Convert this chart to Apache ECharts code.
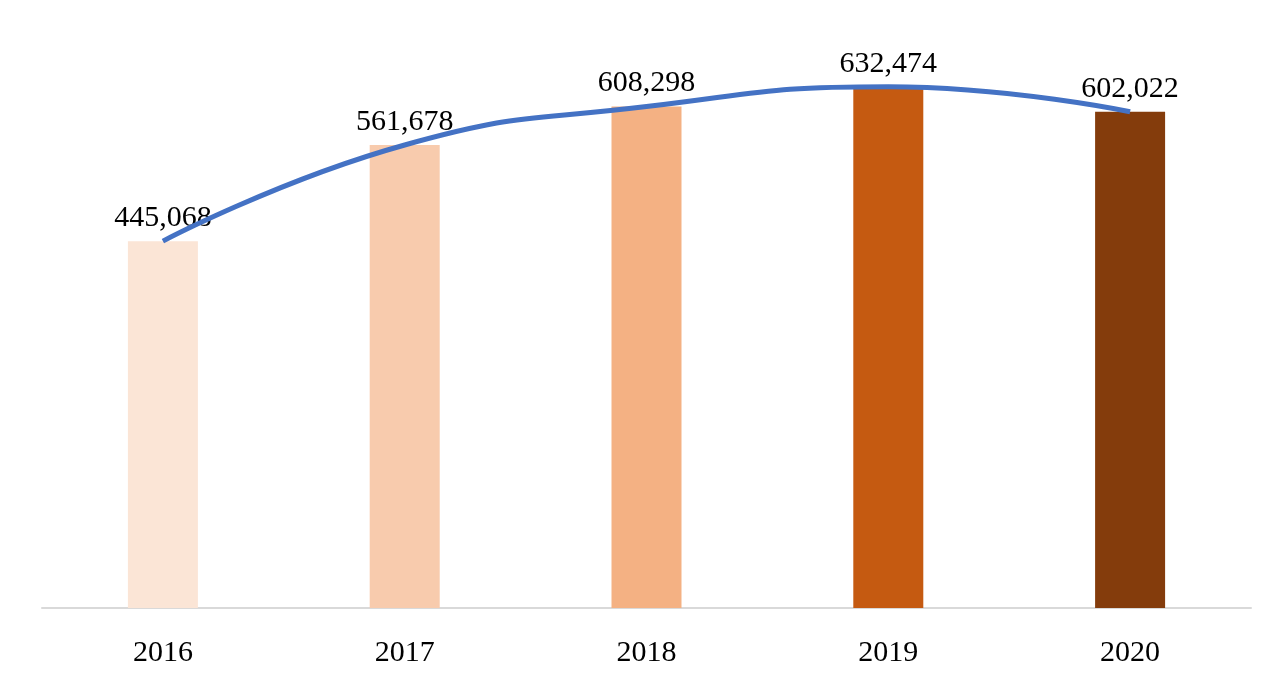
<!doctype html>
<html>
<head>
<meta charset="UTF-8">
<title>chart</title>
<style>
  html, body { margin: 0; padding: 0; background: #fff; }
  #chart { width: 1280px; height: 685px; }
</style>
</head>
<body>
<div id="chart"></div>
<script src="https://cdn.jsdelivr.net/npm/echarts@6/dist/echarts.min.js"></script>
<script>
var years = ['2016', '2017', '2018', '2019', '2020'];
var values = [445068, 561678, 608298, 632474, 602022];
var barColors = ['#FBE5D6', '#F8CBAD', '#F4B183', '#C55A11', '#843C0C'];

var chart = echarts.init(document.getElementById('chart'));
var font = '"Liberation Serif", "DejaVu Serif", serif';

chart.setOption({
  animation: false,
  grid: { left: 42, right: 29, top: 31, bottom: 77 },
  xAxis: {
    type: 'category',
    data: years,
    axisLine: { lineStyle: { color: '#D9D9D9', width: 2 } },
    axisTick: { show: false },
    axisLabel: { color: '#000', fontFamily: font, fontSize: 30, margin: 30 }
  },
  yAxis: {
    type: 'value',
    min: 0,
    max: 700000,
    show: false,
    splitLine: { show: false }
  },
  series: [
    {
      type: 'bar',
      data: values.map(function (v, i) {
        return { value: v, itemStyle: { color: barColors[i] } };
      }),
      barWidth: 70,
      label: {
        show: true,
        position: 'top',
        distance: 8,
        color: '#000',
        fontFamily: font,
        fontSize: 30,
        formatter: function (p) { return p.value.toLocaleString('en-US'); }
      }
    },
    {
      type: 'line',
      data: values,
      smooth: 0.5,
      symbol: 'none',
      lineStyle: { color: '#4472C4', width: 5 },
      z: 5
    }
  ]
});
</script>
</body>
</html>
